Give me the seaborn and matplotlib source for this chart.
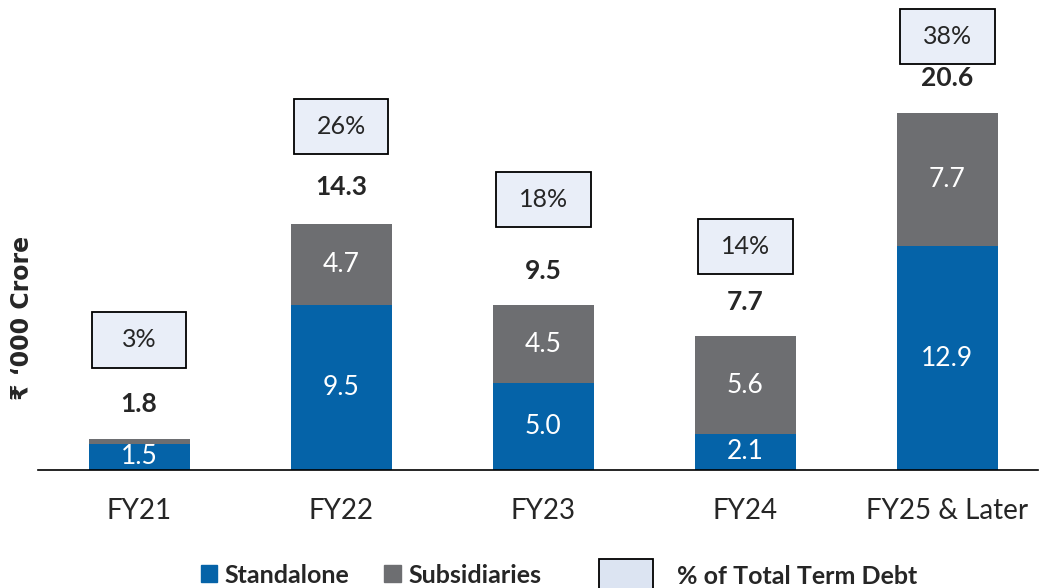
import pandas as pd
import seaborn as sns
import matplotlib.pyplot as plt
from matplotlib.patches import Patch, Rectangle

years = ["FY21", "FY22", "FY23", "FY24", "FY25 & Later"]
standalone = [1.5, 9.5, 5.0, 2.1, 12.9]
subsidiaries = [0.3, 4.7, 4.5, 5.6, 7.7]
totals = [1.8, 14.3, 9.5, 7.7, 20.6]
share = ["3%", "26%", "18%", "14%", "38%"]
box_y = [7.5, 19.8, 15.6, 12.9, 25.0]

blue = "#0563A8"
grey = "#6D6E71"
box_fill = "#E9EEF8"

sns.set_style("white")
plt.rcParams['font.family'] = ['Lato', 'DejaVu Sans']

df = pd.DataFrame({"year": years, "Standalone": standalone, "Subsidiaries": subsidiaries})

fig = plt.figure(figsize=(10.41, 5.88), dpi=100)
ax = fig.add_axes([0.0365, 0.2007, 0.9606, 0.7993])

sns.barplot(data=df, x="year", y="Standalone", color=blue, width=0.5, saturation=1,
            linewidth=0, ax=ax)
sns.barplot(data=df, x="year", y="Subsidiaries", bottom=df["Standalone"], color=grey,
            width=0.5, saturation=1, linewidth=0, ax=ax)

for i in range(len(years)):
    ax.text(i, standalone[i] / 2, f"{standalone[i]:.1f}", ha="center", va="center",
            color="white", fontsize=19)
    if subsidiaries[i] >= 1:
        ax.text(i, standalone[i] + subsidiaries[i] / 2, f"{subsidiaries[i]:.1f}",
                ha="center", va="center", color="white", fontsize=19)
    ax.annotate(f"{totals[i]:.1f}", (i, totals[i]), xytext=(0, 25), textcoords="offset points",
                ha="center", va="center", fontsize=19, fontweight="bold")
    ax.add_patch(Rectangle((i - 0.235, box_y[i] - 1.6), 0.47, 3.2, fc=box_fill, ec="black",
                           lw=1.3, zorder=3))
    ax.text(i, box_y[i], share[i], ha="center", va="center", fontsize=18, zorder=4)

ax.set_xlim(-0.5, 4.45)
ax.set_ylim(0, 27.1)
ax.set_yticks([])
ax.set_xlabel("")
ax.set_ylabel("₹ ‘000 Crore", fontsize=17, fontweight="bold", family=['DejaVu Sans'])
ax.yaxis.set_label_coords(-0.004, 0.323)
ax.tick_params(axis="x", labelsize=20, length=0, pad=20)
for s in ["top", "right", "left"]:
    ax.spines[s].set_visible(False)
ax.spines["bottom"].set_color("black")
ax.spines["bottom"].set_linewidth(1.2)

handles = [Patch(color=blue, label="Standalone"), Patch(color=grey, label="Subsidiaries")]
fig.legend(handles=handles, loc="center left", bbox_to_anchor=(0.181, 0.022), ncol=2,
           frameon=False, handlelength=0.65, handleheight=0.65, handletextpad=0.3,
           columnspacing=1.4, borderpad=0, prop={"size": 18, "weight": "bold"})
fig.patches.append(Rectangle((0.5755, -0.01), 0.052, 0.06, transform=fig.transFigure,
                             fc="#DCE4F2", ec="black", lw=1.3))
fig.text(0.65, 0.02, "% of Total Term Debt", fontsize=18, fontweight="bold", va="center")

fig.savefig("out.png", dpi=100)
